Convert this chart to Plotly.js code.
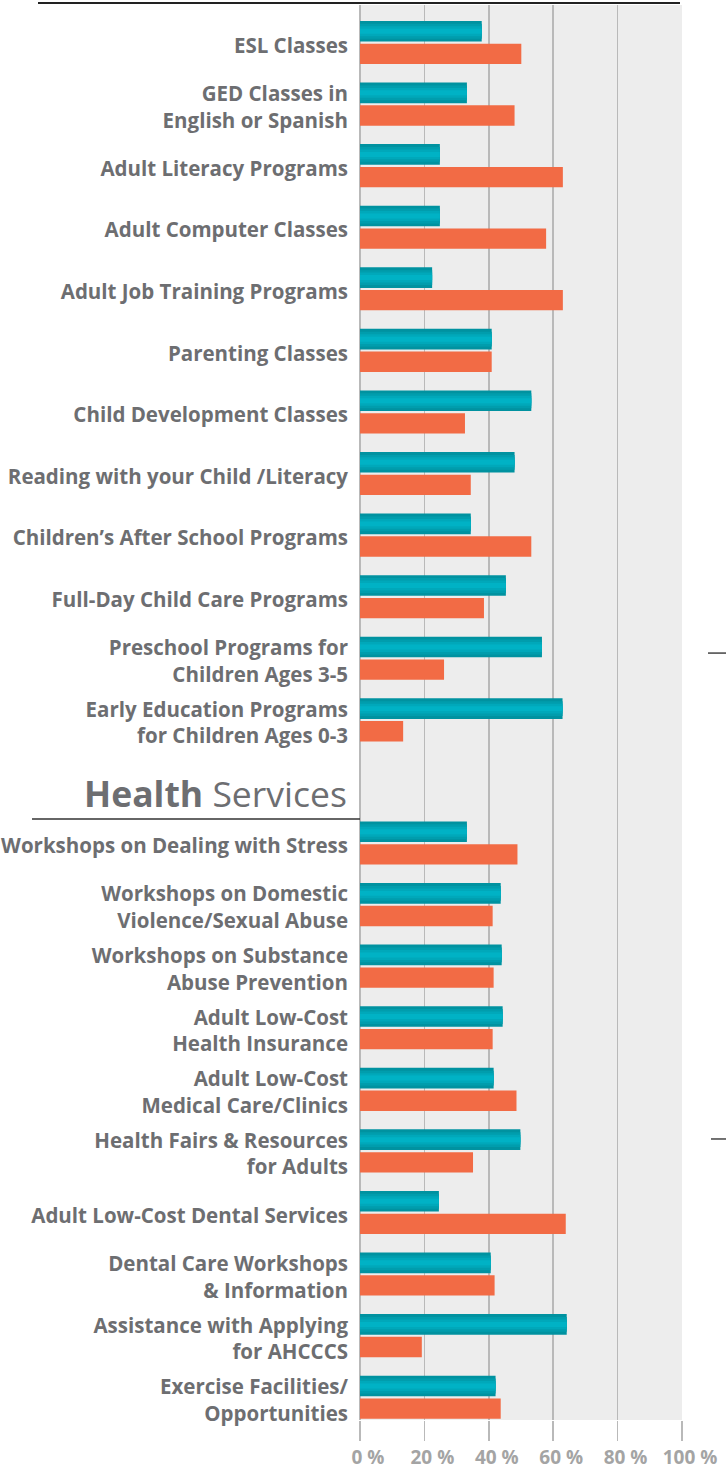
<!DOCTYPE html>
<html>
<head>
<meta charset="utf-8">
<script src="https://cdn.plot.ly/plotly-3.0.1.min.js"></script>
<style>
  html, body { margin: 0; padding: 0; background: #ffffff; }
  #chart { width: 726px; height: 1470px; }
</style>
</head>
<body>
<div id="chart"></div>
<script>
// ---- Data ----
const educationCategories = [
  "ESL Classes",
  "GED Classes in<br>English or Spanish",
  "Adult Literacy Programs",
  "Adult Computer Classes",
  "Adult Job Training Programs",
  "Parenting Classes",
  "Child Development Classes",
  "Reading with your Child /Literacy",
  "Children’s After School Programs",
  "Full-Day Child Care Programs",
  "Preschool Programs for<br>Children Ages 3-5",
  "Early Education Programs<br>for Children Ages 0-3"
];
const educationTeal   = [37.8, 33.2, 24.8, 24.8, 22.4, 40.9, 53.2, 48.0, 34.4, 45.3, 56.5, 62.9];
const educationOrange = [50.1, 48.0, 63.0, 57.8, 63.0, 40.9, 32.6, 34.4, 53.2, 38.5, 26.1, 13.4];

const healthCategories = [
  "Workshops on Dealing with Stress",
  "Workshops on Domestic<br>Violence/Sexual Abuse",
  "Workshops on Substance<br>Abuse Prevention",
  "Adult Low-Cost<br>Health Insurance",
  "Adult Low-Cost<br>Medical Care/Clinics",
  "Health Fairs & Resources<br>for Adults",
  "Adult Low-Cost Dental Services",
  "Dental Care Workshops<br>& Information",
  "Assistance with Applying<br>for AHCCCS",
  "Exercise Facilities/<br>Opportunities"
];
const healthTeal   = [33.2, 43.7, 44.0, 44.3, 41.5, 49.8, 24.5, 40.6, 64.2, 42.1];
const healthOrange = [48.9, 41.2, 41.5, 41.2, 48.6, 35.1, 63.9, 41.8, 19.2, 43.7];

const sectionHeading = "<b>Health</b> Services";
const spacerCategory = " ";
const xTickSuffix = " %";

// ---- Build ----
const allCategories = educationCategories.concat(healthCategories);
const allTeal = educationTeal.concat(healthTeal);
const allOrange = educationOrange.concat(healthOrange);
const categoryOrder = educationCategories.concat([spacerCategory], healthCategories);

const tealOffset = -0.35, tealWidth = 0.335;
const tealCenter = tealOffset + tealWidth / 2;
const tealLayers = [
  { color: "#0092a0", frac: 1.0 },
  { color: "#009dad", frac: 0.72 },
  { color: "#00a8ba", frac: 0.48 },
  { color: "#00b2c5", frac: 0.24 }
];

const traces = [];
tealLayers.forEach(function (layer) {
  const w = tealWidth * layer.frac;
  traces.push({
    type: "bar",
    orientation: "h",
    y: allCategories,
    x: allTeal,
    offset: tealCenter - w / 2,
    width: w,
    marker: { color: layer.color, line: { width: 0 } },
    hoverinfo: "skip",
    showlegend: false
  });
});
traces.push({
  type: "bar",
  orientation: "h",
  y: allCategories,
  x: allOrange,
  offset: 0.02,
  width: 0.33,
  marker: { color: "#f26b45", line: { width: 0 } },
  hoverinfo: "skip",
  showlegend: false
});

const gridColor = "#b9b9b9";
const labelFont = "'Open Sans', Lato, sans-serif";
const layout = {
  width: 726,
  height: 1470,
  margin: { l: 360, r: 44, t: 5, b: 50 },
  paper_bgcolor: "#ffffff",
  plot_bgcolor: "#ededed",
  barmode: "overlay",
  showlegend: false,
  font: { family: labelFont },
  xaxis: {
    range: [0, 100],
    dtick: 20,
    tick0: 0,
    ticksuffix: xTickSuffix,
    showgrid: true,
    gridcolor: gridColor,
    gridwidth: 1.5,
    zeroline: true,
    zerolinecolor: gridColor,
    zerolinewidth: 1.5,
    showline: false,
    ticks: "outside",
    ticklen: 20,
    tickwidth: 1.5,
    tickcolor: gridColor,
    ticklabelshift: 8,
    ticklabelstandoff: 0,
    tickfont: { family: labelFont, size: 19, color: "#a4a4a4", weight: 700 },
    fixedrange: true
  },
  yaxis: {
    type: "category",
    categoryorder: "array",
    categoryarray: categoryOrder,
    autorange: false,
    range: [22.37, -0.609],
    showgrid: false,
    zeroline: false,
    showline: false,
    ticks: "",
    ticklabelstandoff: 11,
    ticklabelshift: -3,
    tickfont: { family: labelFont, size: 20.5, color: "#6d6e71", weight: 700 },
    fixedrange: true
  },
  annotations: [
    {
      text: sectionHeading,
      xref: "paper", yref: "paper",
      x: 0, y: 0.4431,
      xanchor: "right", yanchor: "middle",
      xshift: -11,
      showarrow: false,
      font: { family: labelFont, size: 35.5, color: "#6d6e71", weight: 400 }
    }
  ],
  shapes: [
    { type: "line", xref: "paper", yref: "paper", x0: -1.0, x1: 0.9938, y0: 1.0014, y1: 1.0014,
      line: { color: "#222222", width: 2 } },
    { type: "line", xref: "paper", yref: "paper", x0: -1.0186, x1: 0, y0: 0.4247, y1: 0.4247,
      line: { color: "#333333", width: 1.5 } },
    { type: "line", xref: "paper", yref: "paper", x0: 1.0807, x1: 1.14, y0: 0.5420, y1: 0.5420,
      line: { color: "#444444", width: 1.5 } },
    { type: "line", xref: "paper", yref: "paper", x0: 1.09, x1: 1.14, y0: 0.1986, y1: 0.1986,
      line: { color: "#444444", width: 1.5 } }
  ]
};

Plotly.newPlot("chart", traces, layout, { displayModeBar: false, staticPlot: true });
</script>
</body>
</html>
